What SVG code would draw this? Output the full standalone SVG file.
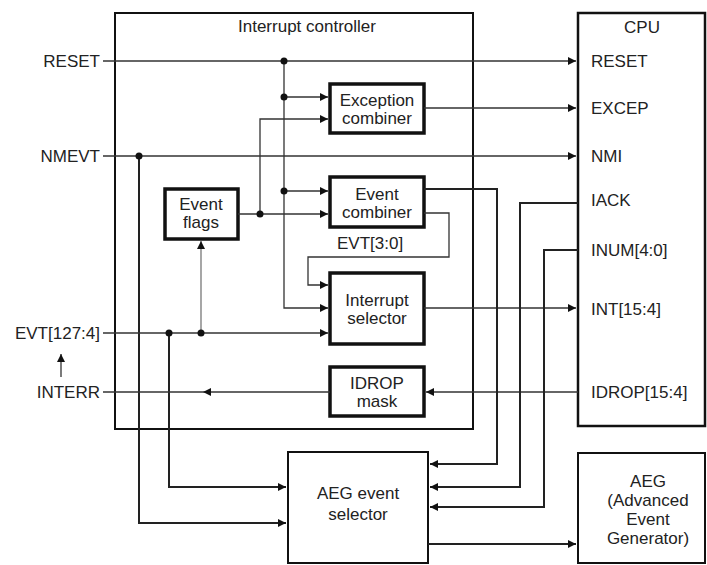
<svg xmlns="http://www.w3.org/2000/svg" width="707" height="565" viewBox="0 0 707 565">
<style>
text{font-family:"Liberation Sans",Arial,sans-serif;font-size:17px;fill:#222}
.c{text-anchor:middle}
.r{text-anchor:end}
.box{fill:#fff;stroke:#111;stroke-width:3.5}
.frame{fill:none;stroke:#111;stroke-width:2}
.w{fill:none;stroke:#333;stroke-width:1.3}
.g{fill:none;stroke:#777;stroke-width:1.3}
.t{fill:none;stroke:#222;stroke-width:2}
.dot{fill:#111}
</style>
<defs>
<marker id="ah" viewBox="0 0 10 10" refX="10" refY="5" markerWidth="9" markerHeight="8" markerUnits="userSpaceOnUse" orient="auto">
<path d="M0,0 L10,5 L0,10 z" fill="#111"/>
</marker>
</defs>
<g id="interrupt-controller">
<rect class="frame" x="115" y="13" width="358" height="416"/>
<text class="c" x="307" y="32">Interrupt controller</text>
</g>
<g id="cpu">
<rect class="frame" x="578" y="13" width="127" height="413" style="stroke-width:2.5"/>
<text class="c" x="642" y="33">CPU</text>
<text x="591" y="67">RESET</text>
<text x="591" y="114">EXCEP</text>
<text x="591" y="162">NMI</text>
<text x="591" y="206">IACK</text>
<text x="591" y="256">INUM[4:0]</text>
<text x="591" y="315">INT[15:4]</text>
<text x="591" y="398">IDROP[15:4]</text>
</g>
<g id="aeg">
<rect class="frame" x="578" y="453" width="127" height="110"/>
<text class="c" x="648" y="487">AEG</text>
<text class="c" x="648" y="506">(Advanced</text>
<text class="c" x="648" y="525">Event</text>
<text class="c" x="648" y="544">Generator)</text>
</g>
<g id="aeg-event-selector">
<rect class="frame" x="288" y="452" width="140" height="111"/>
<text class="c" x="358" y="499">AEG event</text>
<text class="c" x="358" y="520">selector</text>
</g>
<g id="exception-combiner">
<rect class="box" x="330" y="84" width="94" height="49"/>
<text class="c" x="377" y="106">Exception</text>
<text class="c" x="377" y="124">combiner</text>
</g>
<g id="event-combiner">
<rect class="box" x="330" y="177" width="94" height="50"/>
<text class="c" x="377" y="200">Event</text>
<text class="c" x="377" y="218">combiner</text>
</g>
<g id="event-flags">
<rect class="box" x="165" y="189" width="73" height="50"/>
<text class="c" x="201" y="210">Event</text>
<text class="c" x="201" y="228">flags</text>
</g>
<g id="interrupt-selector">
<rect class="box" x="330" y="273" width="94" height="71"/>
<text class="c" x="377" y="306">Interrupt</text>
<text class="c" x="377" y="324">selector</text>
</g>
<g id="idrop-mask">
<rect class="box" x="330" y="367" width="94" height="49"/>
<text class="c" x="377" y="389">IDROP</text>
<text class="c" x="377" y="407">mask</text>
</g>
<g id="inputs">
<text class="r" x="100" y="67">RESET</text>
<text class="r" x="100" y="162">NMEVT</text>
<text class="r" x="100" y="339">EVT[127:4]</text>
<text class="r" x="100" y="398">INTERR</text>
<text x="337" y="249">EVT[3:0]</text>
</g>
<g id="connectors">
<path class="w" d="M103,61 H576" marker-end="url(#ah)"/>
<path class="w" d="M284,61 V308 H328" marker-end="url(#ah)"/>
<path class="w" d="M284,97 H328" marker-end="url(#ah)"/>
<path class="w" d="M284,191 H328" marker-end="url(#ah)"/>
<path class="w" d="M260,214 V119 H328" marker-end="url(#ah)"/>
<path class="w" d="M238,214 H328" marker-end="url(#ah)"/>
<path class="w" d="M424,108 H576" marker-end="url(#ah)"/>
<path class="w" d="M103,156 H576" marker-end="url(#ah)"/>
<path class="t" d="M139,156 V523 H286" marker-end="url(#ah)"/>
<path class="w" d="M103,333 H328" marker-end="url(#ah)"/>
<path class="g" d="M201,333 V241" marker-end="url(#ah)"/>
<path class="t" d="M169,333 V487 H286" marker-end="url(#ah)"/>
<path class="w" d="M424,213 H449 V257 H308 V285 H328" marker-end="url(#ah)"/>
<path class="w" d="M424,308 H576" marker-end="url(#ah)"/>
<path class="w" d="M578,392 H426" marker-end="url(#ah)"/>
<path class="w" d="M330,392 H203" marker-end="url(#ah)"/>
<path class="w" d="M203,392 H103"/>
<path class="w" d="M61,377 V354" marker-end="url(#ah)"/>
<path class="t" d="M424,189 H497 V464 H430" marker-end="url(#ah)"/>
<path class="t" d="M578,203 H520 V487 H430" marker-end="url(#ah)"/>
<path class="t" d="M578,250 H544 V507 H430" marker-end="url(#ah)"/>
<path class="t" d="M428,544 H576" marker-end="url(#ah)"/>
<circle class="dot" cx="284" cy="61" r="3.5"/>
<circle class="dot" cx="284" cy="97" r="3.5"/>
<circle class="dot" cx="284" cy="191" r="3.5"/>
<circle class="dot" cx="260" cy="214" r="3.5"/>
<circle class="dot" cx="139" cy="156" r="3.5"/>
<circle class="dot" cx="169" cy="333" r="3.5"/>
<circle class="dot" cx="201" cy="333" r="3.5"/>
</g>
</svg>
